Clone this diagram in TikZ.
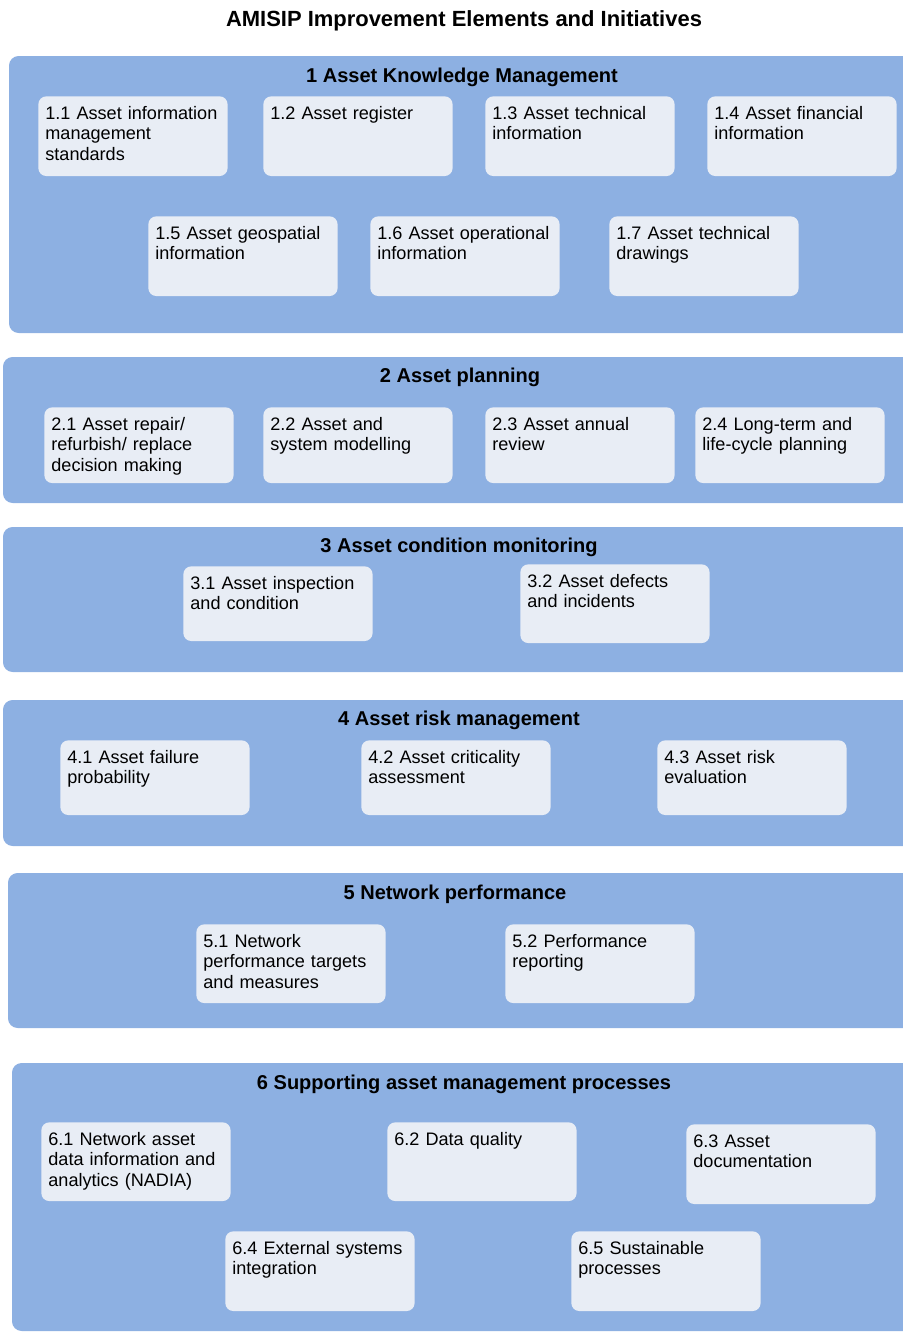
\documentclass[tikz,border=0pt]{standalone}
\usepackage{fontspec}
\setmainfont{Liberation Sans}
\usepackage{tikz}

\definecolor{panelblue}{RGB}{141,176,226}
\definecolor{itemgrey}{RGB}{232,237,245}

\begin{document}
\begin{tikzpicture}[x=0.02cm,y=-0.02cm,
		panel/.style={fill=panelblue,rounded corners=5.5pt},
		head/.style={anchor=base,font=\bfseries\fontsize{11.4}{13}\selectfont},
		item/.style={fill=itemgrey,rounded corners=4.5pt,anchor=north west,align=left,
			text width=99.7pt,inner xsep=4pt,inner ysep=5.5pt,text height=7.6pt,text depth=#1,
			font=\fontsize{10.3}{11.6}\selectfont},
		item/.default=26.75pt]
			
			\path[use as bounding box,clip] (0,0) rectangle (903,1333);
			
			\node[anchor=base,font=\bfseries\fontsize{12.5}{14}\selectfont] (title) at (464,26) {AMISIP Improvement Elements and Initiatives};
			
			\fill[panel] (9,56) rectangle (940,333);
			\fill[panel] (3,357) rectangle (940,503);
			\fill[panel] (3,527) rectangle (940,672);
			\fill[panel] (3,700) rectangle (940,846);
			\fill[panel] (8,873) rectangle (940,1028);
			\fill[panel] (12,1063) rectangle (940,1331);
			
			\node[head] (h1) at (462,82) {1 Asset Knowledge Management};
			\node[head] (h2) at (460,382) {2 Asset planning};
			\node[head] (h3) at (459,552) {3 Asset condition monitoring};
			\node[head] (h4) at (459,725) {4 Asset risk management};
			\node[head] (h5) at (455,899) {5 Network performance};
			\node[head] (h6) at (464,1089) {6 Supporting asset management processes};
			
			\node[item] (b11) at (38,96) {1.1 Asset information\\management\\standards};
			\node[item] (b12) at (263,96) {1.2 Asset register};
			\node[item] (b13) at (485,96) {1.3 Asset technical\\information};
			\node[item] (b14) at (707,96) {1.4 Asset financial\\information};
			\node[item] (b15) at (148,216) {1.5 Asset geospatial\\information};
			\node[item] (b16) at (370,216) {1.6 Asset operational\\information};
			\node[item] (b17) at (609,216) {1.7 Asset technical\\drawings};
			
			\node[item=24.5pt] (b21) at (44,407) {2.1 Asset repair/\\refurbish/ replace\\decision making};
			\node[item=24.5pt] (b22) at (263,407) {2.2 Asset and\\system modelling};
			\node[item=24.5pt] (b23) at (485,407) {2.3 Asset annual\\review};
			\node[item=24.5pt] (b24) at (695,407) {2.4 Long-term and\\life-cycle planning};
			
			\node[item=23.9pt] (b31) at (183,566) {3.1 Asset inspection\\and condition};
			\node[item=26.2pt] (b32) at (520,564) {3.2 Asset defects\\and incidents};
			
			\node[item=23.9pt] (b41) at (60,740) {4.1 Asset failure\\probability};
			\node[item=23.9pt] (b42) at (361,740) {4.2 Asset criticality\\assessment};
			\node[item=23.9pt] (b43) at (657,740) {4.3 Asset risk\\evaluation};
			
			\node[item=26.2pt] (b51) at (196,924) {5.1 Network\\performance targets\\and measures};
			\node[item=26.2pt] (b52) at (505,924) {5.2 Performance\\reporting};
			
			\node[item=26.2pt] (b61) at (41,1122) {6.1 Network asset\\data information and\\analytics (NADIA)};
			\node[item=26.2pt] (b62) at (387,1122) {6.2 Data quality};
			\node[item] (b63) at (686,1124) {6.3 Asset\\documentation};
			\node[item] (b64) at (225,1231) {6.4 External systems\\integration};
			\node[item] (b65) at (571,1231) {6.5 Sustainable\\processes};
			
		\end{tikzpicture}
\end{document}
